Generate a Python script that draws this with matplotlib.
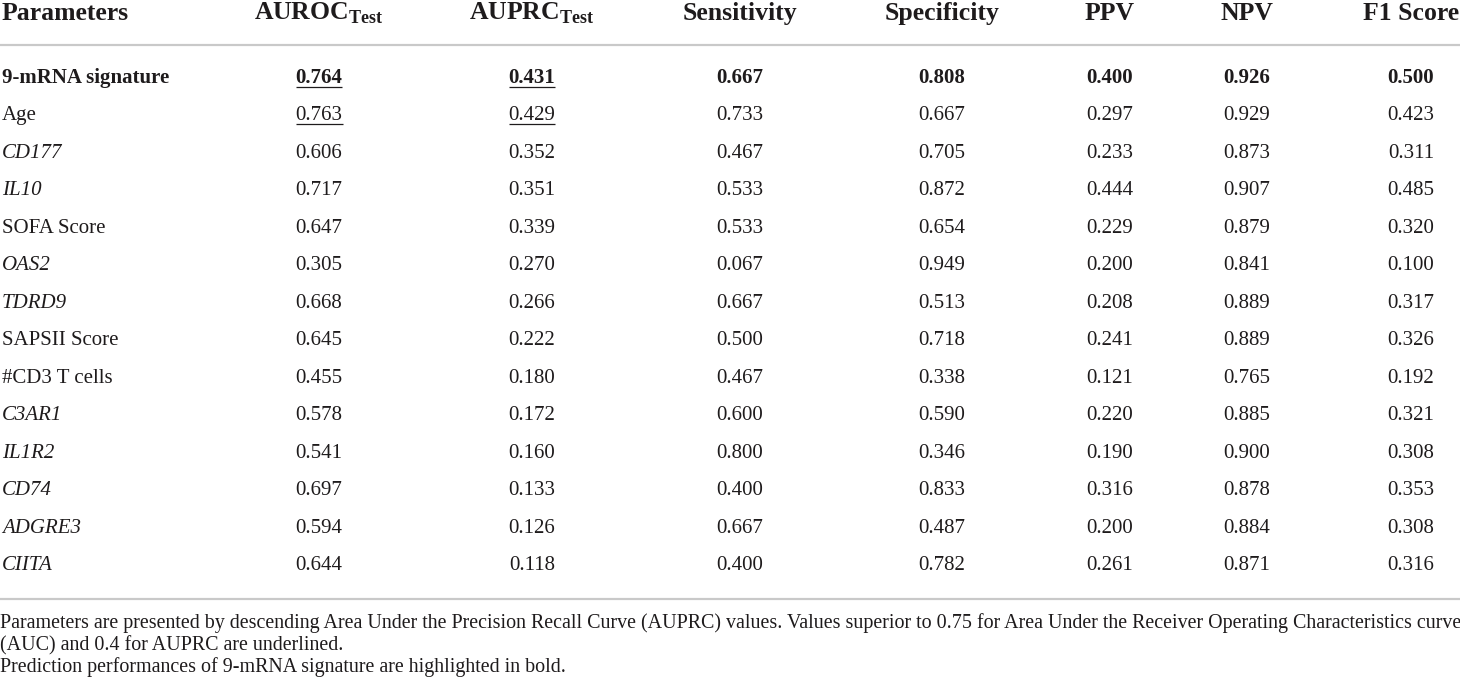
import matplotlib
matplotlib.use('Agg')
import matplotlib.pyplot as plt

plt.rcParams['font.family'] = ['Liberation Serif', 'DejaVu Serif']
plt.rcParams['mathtext.fontset'] = 'custom'
plt.rcParams['mathtext.rm'] = 'Liberation Serif'
plt.rcParams['mathtext.bf'] = 'Liberation Serif:bold'

# table data
columns = ['Parameters', r'$\mathbf{AUROC}_{\mathbf{Test}}$', r'$\mathbf{AUPRC}_{\mathbf{Test}}$',
           'Sensitivity', 'Specificity', 'PPV', 'NPV', 'F1 Score']
names = ['9-mRNA signature', 'Age', 'CD177', 'IL10', 'SOFA Score', 'OAS2', 'TDRD9',
         'SAPSII Score', '#CD3 T cells', 'C3AR1', 'IL1R2', 'CD74', 'ADGRE3', 'CIITA']
genes = ['CD177', 'IL10', 'OAS2', 'TDRD9', 'C3AR1', 'IL1R2', 'CD74', 'ADGRE3', 'CIITA']
auroc = [0.764, 0.763, 0.606, 0.717, 0.647, 0.305, 0.668, 0.645, 0.455, 0.578, 0.541, 0.697, 0.594, 0.644]
auprc = [0.431, 0.429, 0.352, 0.351, 0.339, 0.270, 0.266, 0.222, 0.180, 0.172, 0.160, 0.133, 0.126, 0.118]
sens = [0.667, 0.733, 0.467, 0.533, 0.533, 0.067, 0.667, 0.500, 0.467, 0.600, 0.800, 0.400, 0.667, 0.400]
spec = [0.808, 0.667, 0.705, 0.872, 0.654, 0.949, 0.513, 0.718, 0.338, 0.590, 0.346, 0.833, 0.487, 0.782]
ppv = [0.400, 0.297, 0.233, 0.444, 0.229, 0.200, 0.208, 0.241, 0.121, 0.220, 0.190, 0.316, 0.200, 0.261]
npv = [0.926, 0.929, 0.873, 0.907, 0.879, 0.841, 0.889, 0.889, 0.765, 0.885, 0.900, 0.878, 0.884, 0.871]
f1 = [0.500, 0.423, 0.311, 0.485, 0.320, 0.100, 0.317, 0.326, 0.192, 0.321, 0.308, 0.353, 0.308, 0.316]
bold_rows = ['9-mRNA signature']
notes = [
    'Parameters are presented by descending Area Under the Precision Recall Curve (AUPRC) values. '
    'Values superior to 0.75 for Area Under the Receiver Operating Characteristics curve',
    '(AUC) and 0.4 for AUPRC are underlined.',
    'Prediction performances of 9-mRNA signature are highlighted in bold.',
]

# layout in pixels
W, H = 1460, 684
col_x = [2, 319, 532, 740, 942, 1110, 1247, 1411]
head_base = 20
row_base0 = 83
row_step = 37.46
note_base = [628, 650, 672]
ink = '#1e1b1c'
rule = '#c9c9c9'

fig = plt.figure(figsize=(W / 100, H / 100), dpi=100)
ax = fig.add_axes([0, 0, 1, 1])
ax.set_xlim(0, W)
ax.set_ylim(H, 0)
ax.axis('off')

for j, c in enumerate(columns):
    ax.text(col_x[j], head_base, c, ha='left' if j == 0 else 'center', va='baseline',
            fontsize=18.5, fontweight='bold', color=ink)

ax.plot([0, W], [45, 45], color=rule, lw=1.6, solid_capstyle='butt')
ax.plot([0, W], [599, 599], color=rule, lw=1.6, solid_capstyle='butt')

underlined = []
values = [auroc, auprc, sens, spec, ppv, npv, f1]
for i, name in enumerate(names):
    yb = row_base0 + i * row_step
    weight = 'bold' if name in bold_rows else 'normal'
    style = 'italic' if name in genes else 'normal'
    ax.text(col_x[0], yb, name, ha='left', va='baseline', fontsize=15,
            fontweight=weight, fontstyle=style, color=ink)
    for j, col in enumerate(values):
        t = ax.text(col_x[j + 1], yb, f'{col[i]:.3f}', ha='center', va='baseline',
                    fontsize=15, fontweight=weight, color=ink)
        if (j == 0 and col[i] > 0.75) or (j == 1 and col[i] > 0.4):
            underlined.append((t, yb))

note_texts = []
for k, line in enumerate(notes):
    note_texts.append(ax.text(0, note_base[k], line, ha='left', va='baseline',
                              fontsize=13, color=ink))

fig.canvas.draw()
r = fig.canvas.get_renderer()
inv = ax.transData.inverted()

# scale the footnote so its first line fills the width
bb = note_texts[0].get_window_extent(r)
scale = (W - 3) / bb.width
for t in note_texts:
    t.set_fontsize(13 * scale)

for t, yb in underlined:
    bb = t.get_window_extent(r)
    x0 = inv.transform((bb.x0, 0))[0]
    x1 = inv.transform((bb.x1, 0))[0]
    ax.plot([x0, x1], [yb + 3.5, yb + 3.5], color=ink, lw=0.9, solid_capstyle='butt')

fig.savefig('out.png', dpi=100, facecolor='white')
